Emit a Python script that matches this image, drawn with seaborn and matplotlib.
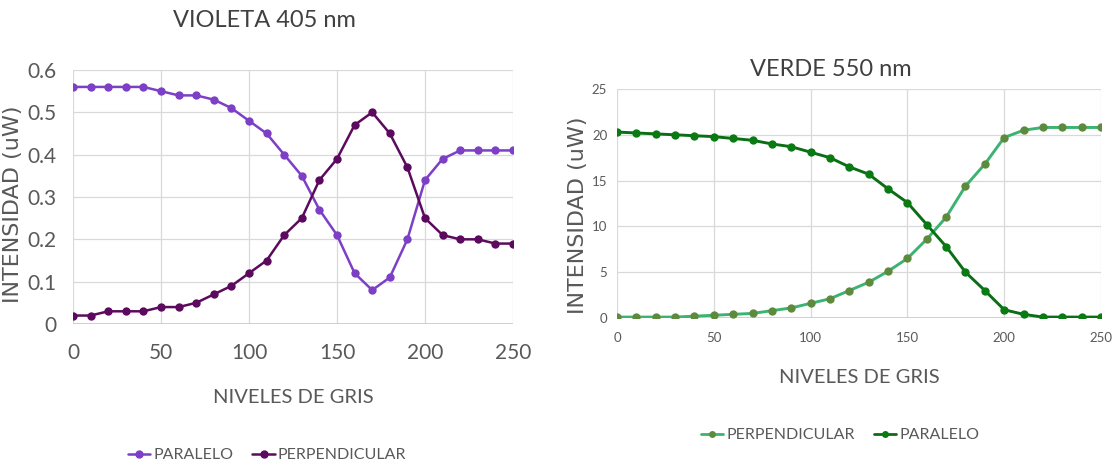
import matplotlib
matplotlib.use("Agg")
import matplotlib.pyplot as plt
import seaborn as sns
import pandas as pd

niveles = list(range(0, 251, 10))

violeta_paralelo = [0.56, 0.56, 0.56, 0.56, 0.56, 0.55, 0.54, 0.54, 0.53, 0.51,
                    0.48, 0.45, 0.40, 0.35, 0.27, 0.21, 0.12, 0.08, 0.11, 0.20,
                    0.34, 0.39, 0.41, 0.41, 0.41, 0.41]
violeta_perpendicular = [0.02, 0.02, 0.03, 0.03, 0.03, 0.04, 0.04, 0.05, 0.07, 0.09,
                         0.12, 0.15, 0.21, 0.25, 0.34, 0.39, 0.47, 0.50, 0.45, 0.37,
                         0.25, 0.21, 0.20, 0.20, 0.19, 0.19]

verde_perpendicular = [0.1, 0.1, 0.1, 0.1, 0.2, 0.3, 0.4, 0.5, 0.8, 1.1,
                       1.6, 2.1, 3.0, 3.9, 5.1, 6.5, 8.6, 11.0, 14.4, 16.8,
                       19.7, 20.5, 20.8, 20.8, 20.8, 20.8]
verde_paralelo = [20.3, 20.2, 20.1, 20.0, 19.9, 19.8, 19.6, 19.4, 19.0, 18.7,
                  18.1, 17.5, 16.5, 15.7, 14.1, 12.6, 10.2, 7.8, 5.0, 3.0,
                  0.9, 0.4, 0.1, 0.1, 0.1, 0.1]

sns.set_style("white")
plt.rcParams["font.family"] = ["Lato", "DejaVu Sans"]

gris = "#595959"
violeta_claro = "#7c3fc6"
violeta_osc = "#5c0a5e"
verde_claro = "#3cb371"
verde_claro_mk = "#5e8a3e"
verde_osc = "#0b6e14"
verde_osc_mk = "#0a7a12"

df_v = pd.DataFrame({"nivel": niveles * 2,
                     "valor": violeta_paralelo + violeta_perpendicular,
                     "serie": ["PARALELO"] * 26 + ["PERPENDICULAR"] * 26})

fig = plt.figure(figsize=(11.12, 4.7), dpi=100)

ax1 = fig.add_axes([73 / 1112, 1 - 324 / 470, 440 / 1112, 254 / 470])
ax2 = fig.add_axes([617 / 1112, 1 - 318 / 470, 484 / 1112, 229 / 470])


def estilo(ax, yticks, size):
    for s in ax.spines.values():
        s.set_visible(False)
    ax.set_xlim(0, 250)
    ax.set_xticks(range(0, 251, 50))
    ax.set_yticks(yticks)
    ax.set_ylim(yticks[0], yticks[-1])
    ax.grid(True, color="#d9d9d9", linewidth=0.9)
    ax.axhline(0, color="#c8c8c8", linewidth=1.2, zorder=1)
    ax.tick_params(length=0, colors=gris, labelsize=size)


sns.lineplot(data=df_v, x="nivel", y="valor", hue="serie",
             palette={"PARALELO": violeta_claro, "PERPENDICULAR": violeta_osc},
             marker="o", markersize=6, markeredgewidth=0, linewidth=1.8,
             ax=ax1, legend=False)
estilo(ax1, [0, 0.1, 0.2, 0.3, 0.4, 0.5, 0.6], 15)
ax1.set_yticklabels(["0", "0.1", "0.2", "0.3", "0.4", "0.5", "0.6"])
ax1.tick_params(axis="x", pad=14)
ax1.tick_params(axis="y", pad=12)

for serie, color, mk in [(verde_perpendicular, verde_claro, verde_claro_mk),
                         (verde_paralelo, verde_osc, verde_osc_mk)]:
    sns.lineplot(x=niveles, y=serie, color=color, linewidth=2.1, ax=ax2,
                 marker="o", markersize=6, markerfacecolor=mk,
                 markeredgewidth=0)
estilo(ax2, [0, 5, 10, 15, 20, 25], 9.5)
ax2.tick_params(axis="x", pad=10)
ax2.tick_params(axis="y", pad=7)

# titulos y ejes
ax1.set_title("VIOLETA 405 nm", fontsize=17, color="#404040", x=0.434, y=1.193,
              va="center", pad=0)
ax2.set_title("VERDE 550 nm", fontsize=17, color="#404040", x=0.442, y=1.083,
              va="center", pad=0)
ax1.set_xlabel("NIVELES DE GRIS", fontsize=14.5, color=gris)
ax1.xaxis.set_label_coords(0.5, -0.291)
ax1.xaxis.label.set_va("center")
ax2.set_xlabel("NIVELES DE GRIS", fontsize=14.5, color=gris)
ax2.xaxis.set_label_coords(0.5, -0.262)
ax2.xaxis.label.set_va("center")
ax1.set_ylabel("INTENSIDAD (uW)", fontsize=16, color=gris, family="DejaVu Sans")
ax1.yaxis.set_label_coords(-0.136, 0.47)
ax1.yaxis.label.set_va("center")
ax2.set_ylabel("INTENSIDAD (uW)", fontsize=16, color=gris, family="DejaVu Sans")
ax2.yaxis.set_label_coords(-0.08, 0.45)
ax2.yaxis.label.set_va("center")

# leyendas
h1 = [plt.Line2D([], [], color=violeta_claro, marker="o", markersize=5, lw=1.8),
      plt.Line2D([], [], color=violeta_osc, marker="o", markersize=5, lw=1.8)]
fig.legend(h1, ["PARALELO", "PERPENDICULAR"], loc="center",
           bbox_to_anchor=(267 / 1112, 1 - 455 / 470), ncol=2, frameon=False,
           fontsize=11.5, labelcolor=gris, handlelength=1.4, handletextpad=0.2,
           columnspacing=1.2)
h2 = [plt.Line2D([], [], color=verde_claro, marker="o", markerfacecolor=verde_claro_mk,
                 markeredgewidth=0, markersize=5, lw=2),
      plt.Line2D([], [], color=verde_osc, marker="o", markerfacecolor=verde_osc_mk,
                 markeredgewidth=0, markersize=5, lw=2)]
fig.legend(h2, ["PERPENDICULAR", "PARALELO"], loc="center",
           bbox_to_anchor=(840 / 1112, 1 - 435 / 470), ncol=2, frameon=False,
           fontsize=11.5, labelcolor=gris, handlelength=1.4, handletextpad=0.2,
           columnspacing=1.2)

fig.savefig("out.png", dpi=100, facecolor="white")
